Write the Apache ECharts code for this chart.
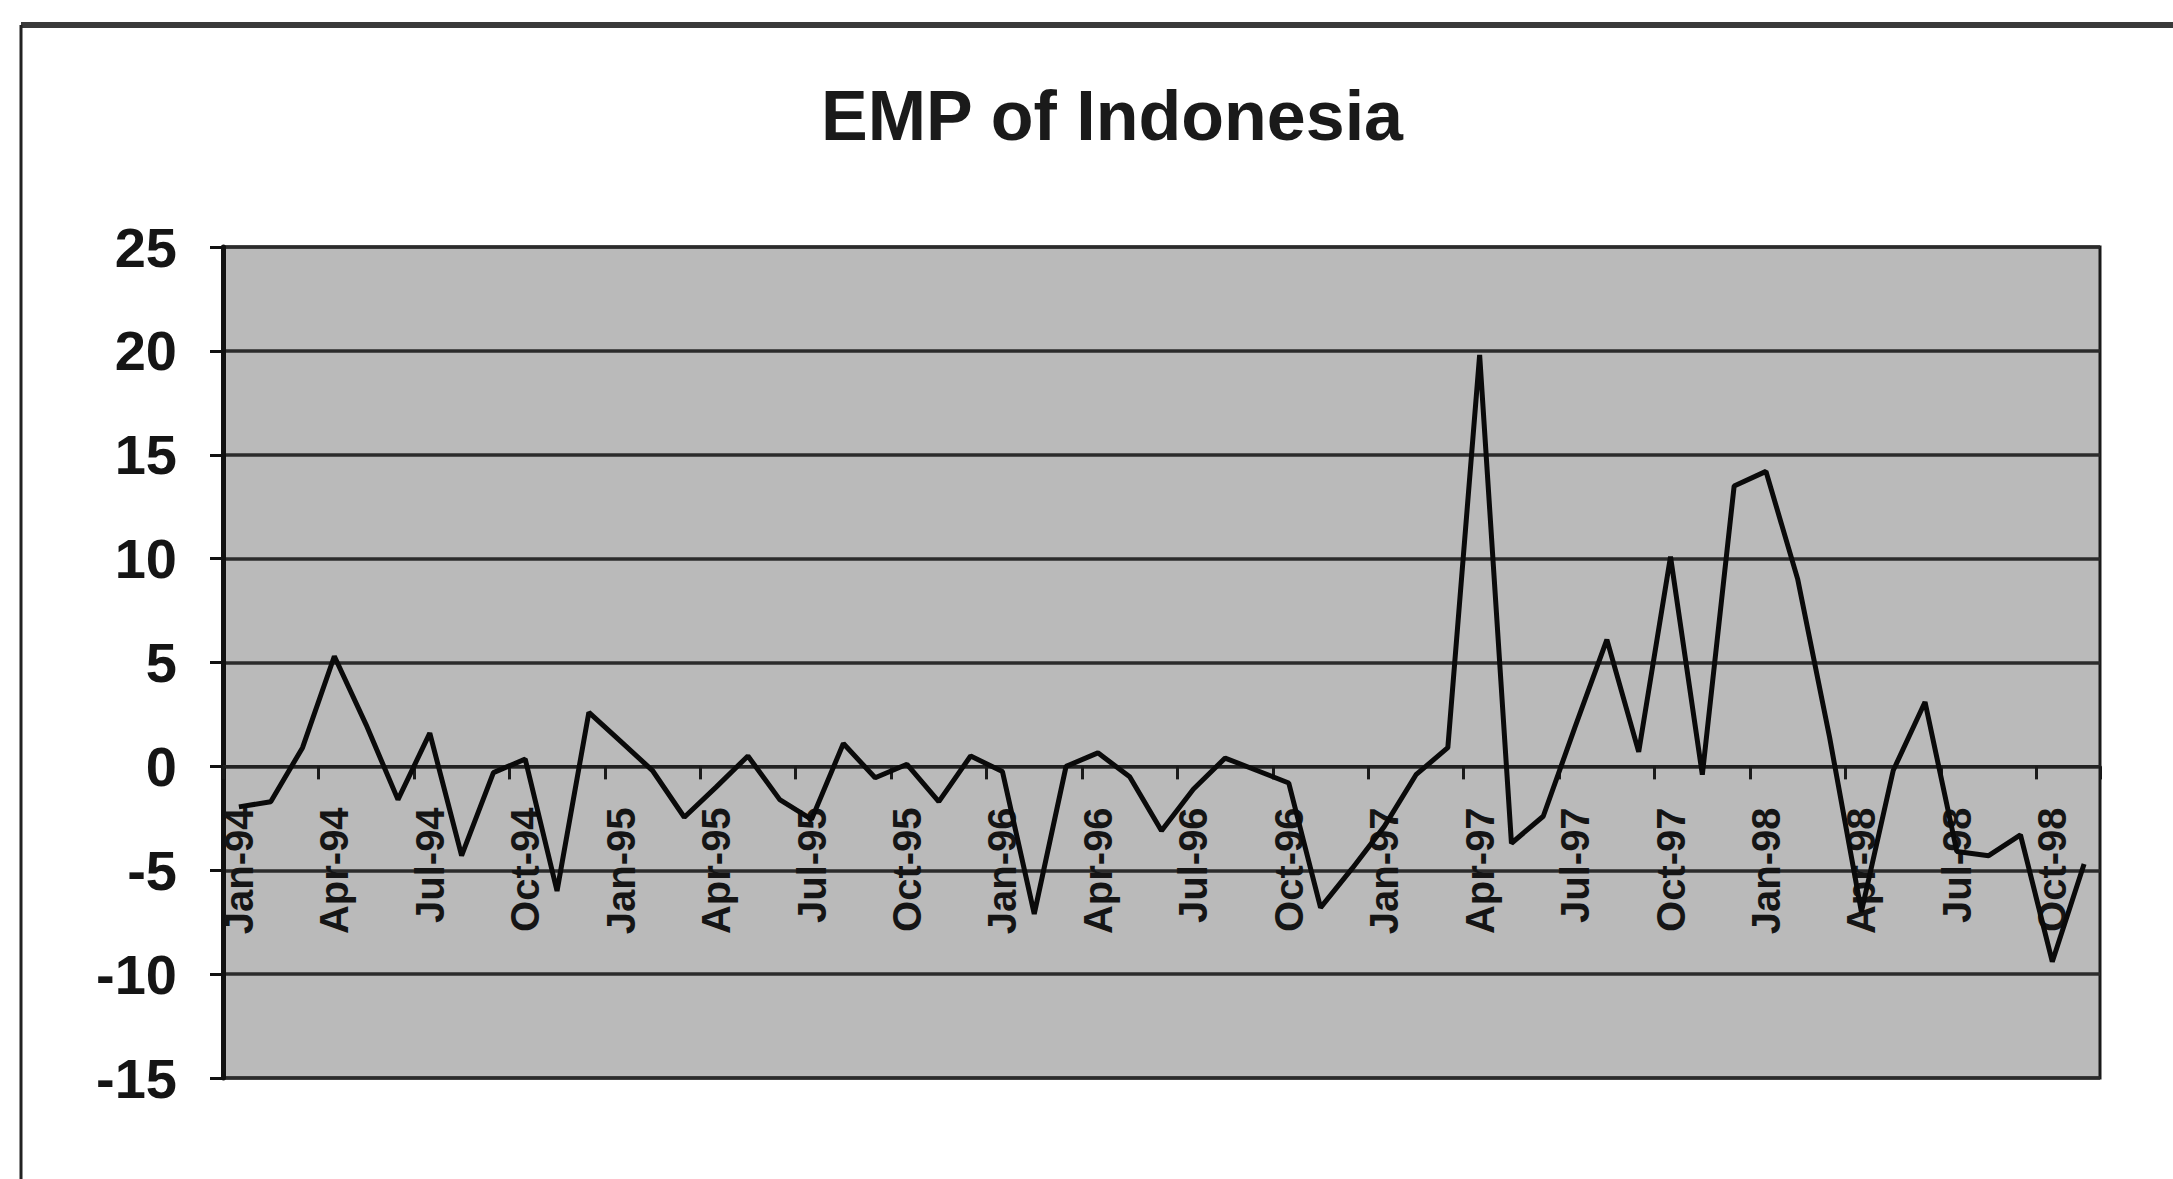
<!DOCTYPE html>
<html>
<head>
<meta charset="utf-8">
<script src="https://cdn.jsdelivr.net/npm/echarts@6/dist/echarts.min.js"></script>
<style>
html,body{margin:0;padding:0;background:#ffffff;}
#chart{width:2173px;height:1179px;}
</style>
</head>
<body>
<div id="chart"></div>
<script>
const chartTitle = 'EMP of Indonesia';

const months = [
  'Jan-94','Feb-94','Mar-94','Apr-94','May-94','Jun-94','Jul-94','Aug-94','Sep-94','Oct-94','Nov-94','Dec-94',
  'Jan-95','Feb-95','Mar-95','Apr-95','May-95','Jun-95','Jul-95','Aug-95','Sep-95','Oct-95','Nov-95','Dec-95',
  'Jan-96','Feb-96','Mar-96','Apr-96','May-96','Jun-96','Jul-96','Aug-96','Sep-96','Oct-96','Nov-96','Dec-96',
  'Jan-97','Feb-97','Mar-97','Apr-97','May-97','Jun-97','Jul-97','Aug-97','Sep-97','Oct-97','Nov-97','Dec-97',
  'Jan-98','Feb-98','Mar-98','Apr-98','May-98','Jun-98','Jul-98','Aug-98','Sep-98','Oct-98','Nov-98'
];

const emp1994 = [-1.95, -1.7, 0.9, 5.3, 2.0, -1.6, 1.6, -4.3, -0.3, 0.35, -6.0, 2.6];
const emp1995 = [1.2, -0.2, -2.45, -1.0, 0.5, -1.6, -2.55, 1.1, -0.55, 0.1, -1.7, 0.5];
const emp1996 = [-0.25, -7.1, 0.0, 0.65, -0.5, -3.1, -1.1, 0.4, -0.2, -0.8, -6.8, -4.9];
const emp1997 = [-2.9, -0.4, 0.9, 19.8, -3.7, -2.4, 1.9, 6.1, 0.7, 10.1, -0.4, 13.5];
const emp1998 = [14.2, 9.0, 1.4, -7.0, -0.2, 3.1, -4.1, -4.3, -3.3, -9.4, -4.7];

const empValues = [].concat(emp1994, emp1995, emp1996, emp1997, emp1998);

const yMin = -15;
const yMax = 25;
const yStep = 5;

const fontFam = '"Liberation Sans", Arial, Helvetica, sans-serif';

const gridTop = 247, gridBottom = 101, gridH = 1179 - gridTop - gridBottom;
// distance of the zero line above the bottom of the plot, so the category axis sits on 0
const zeroOffset = -(0 - yMin) / (yMax - yMin) * gridH;

const chart = echarts.init(document.getElementById('chart'), null, {renderer: 'svg', width: 2173, height: 1179});

chart.setOption({
  animation: false,
  backgroundColor: '#ffffff',
  title: {
    text: chartTitle,
    left: 1107,
    top: 76,
    textAlign: 'center',
    textStyle: {fontFamily: fontFam, fontSize: 70, fontWeight: 'bold', color: '#1a1a1a'}
  },
  grid: {
    left: 223, right: 73, top: gridTop, bottom: gridBottom,
    show: true,
    backgroundColor: '#bababa',
    borderColor: '#1a1a1a',
    borderWidth: 3,
    containLabel: false
  },
  xAxis: {
    type: 'category',
    data: months,
    boundaryGap: true,
    position: 'bottom',
    offset: zeroOffset,
    axisLine: {show: true, onZero: false, lineStyle: {color: '#222222', width: 3}},
    axisTick: {show: true, interval: 2, length: 13, lineStyle: {color: '#1a1a1a', width: 3}},
    axisLabel: {interval: 2, rotate: 90, margin: 41, fontSize: 40, fontWeight: 'bold', fontFamily: fontFam, color: '#151515'},
    splitLine: {show: false}
  },
  yAxis: {
    type: 'value',
    min: yMin, max: yMax, interval: yStep,
    axisLine: {show: true, lineStyle: {color: '#111111', width: 5}},
    axisTick: {show: true, length: 13, lineStyle: {color: '#111111', width: 3}},
    axisLabel: {fontSize: 56, margin: 46, fontWeight: 'bold', fontFamily: fontFam, color: '#151515'},
    splitLine: {show: true, lineStyle: {color: '#2b2b2b', width: 3.5}}
  },
  series: [{
    type: 'line',
    name: 'EMP',
    data: empValues,
    symbol: 'none',
    lineStyle: {color: '#0a0a0a', width: 5},
    z: 5
  }],
  graphic: [
    {type: 'line', silent: true, shape: {x1: 21, y1: 25, x2: 2173, y2: 25}, style: {stroke: '#3a3a3a', lineWidth: 6}},
    {type: 'line', silent: true, shape: {x1: 21, y1: 25, x2: 21, y2: 1179}, style: {stroke: '#222222', lineWidth: 3}}
  ]
});
</script>
</body>
</html>
